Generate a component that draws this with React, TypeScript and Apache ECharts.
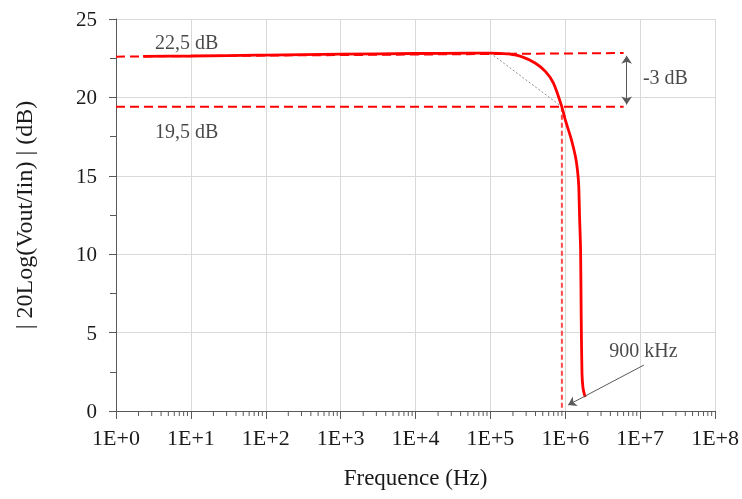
import React, { useEffect, useRef } from "react";
import * as echarts from "echarts";

// Measured response (frequency in Hz, gain in dB)
const freqHz = [2.3, 10, 100, 1e3, 1e4, 5e4, 1e5, 1.3e5, 1.75e5, 2.6e5, 4.0e5, 5.45e5, 6.97e5, 9.0e5, 1.0e6, 1.21e6, 1.37e6, 1.45e6, 1.51e6, 1.55e6, 1.6e6, 1.63e6, 1.67e6, 1.72e6, 1.8e6, 1.85e6];
const gainDb = [22.62, 22.64, 22.7, 22.76, 22.8, 22.82, 22.82, 22.81, 22.77, 22.6, 22.18, 21.64, 20.9, 19.4, 18.56, 17.28, 16.2, 15.4, 14.4, 12.4, 10.27, 6.0, 2.4, 1.5, 1.05, 0.89];

// Tick labels
const xTickLabels = ["1E+0", "1E+1", "1E+2", "1E+3", "1E+4", "1E+5", "1E+6", "1E+7", "1E+8"];
const yTicks = [0, 5, 10, 15, 20, 25];

// Reference lines
const upperRefX = [1, 6e6];
const upperRefY = [22.6, 22.83];
const lowerRefX = [1, 6e6];
const lowerRefY = [19.4, 19.4];
const cutoffX = [9e5, 9e5];
const cutoffY = [19.4, 0];
const tangentX = [1e5, 9e5];
const tangentY = [22.82, 19.4];

// Annotations
const annotTexts = ["22,5 dB", "19,5 dB", "-3 dB", "900 kHz"];
const annotX = [3.26, 3.26, 1.07e7, 3.8e6];
const annotY = [23.53, 17.86, 21.3, 3.89];
const dbArrowX = 6.6e6;
const dbArrowY = [22.65, 19.55];
const khzArrowFrom = [1.12e7, 2.93];
const khzArrowTo = [1.09e6, 0.38];

// Minor tick values on log axis (2..9 per decade)
const minorMultipliers = [2, 3, 4, 5, 6, 7, 8, 9];
const decades = [1, 10, 100, 1e3, 1e4, 1e5, 1e6, 1e7];

const FONT = "'Liberation Serif', 'Times New Roman', serif";
const TEXT = "#1a1a1a";
const AXIS = "#595959";

export default function App() {
  const ref = useRef<HTMLDivElement>(null);
  useEffect(() => {
    if (!ref.current) return;
    const chart = echarts.init(ref.current, null, { renderer: "svg" });
    const minorTicks: number[][] = [];
    decades.forEach((d) => minorMultipliers.forEach((m) => minorTicks.push([m * d, 0])));
    const pair = (xs: number[], ys: number[]) => xs.map((x, i) => [x, ys[i]]);

    chart.setOption({
      animation: false,
      textStyle: { fontFamily: FONT },
      grid: { left: 116, right: 25, top: 19, bottom: 88, containLabel: false },
      xAxis: {
        type: "log",
        logBase: 10,
        min: 1,
        max: 1e8,
        name: "Frequence (Hz)",
        nameLocation: "middle",
        nameGap: 55,
        nameTextStyle: { fontFamily: FONT, fontSize: 23, color: TEXT },
        axisLine: { show: true, lineStyle: { color: AXIS, width: 1 } },
        axisTick: { show: true, length: 8, lineStyle: { color: AXIS } },
        minorTick: { show: false },
        splitLine: { show: true, lineStyle: { color: "#d9d9d9", width: 1 } },
        axisLabel: {
          fontFamily: FONT,
          fontSize: 22,
          color: TEXT,
          margin: 15,
          formatter: (v: number) => xTickLabels[Math.round(Math.log10(v))] ?? "",
        },
      },
      yAxis: {
        type: "value",
        min: yTicks[0],
        max: yTicks[yTicks.length - 1],
        interval: 5,
        name: "| 20Log(Vout/Iin) | (dB)",
        nameLocation: "middle",
        nameGap: 80,
        nameTextStyle: { fontFamily: FONT, fontSize: 24, color: TEXT },
        axisLine: { show: true, lineStyle: { color: AXIS, width: 1 } },
        axisTick: { show: true, length: 7, lineStyle: { color: AXIS } },
        minorTick: { show: true, splitNumber: 2, length: 6, lineStyle: { color: AXIS } },
        splitLine: { show: true, lineStyle: { color: "#d9d9d9", width: 1 } },
        axisLabel: { fontFamily: FONT, fontSize: 21, color: TEXT, margin: 19 },
      },
      series: [
        {
          type: "custom",
          silent: true,
          clip: false,
          renderItem: (params: any, api: any) => {
            const p = api.coord([api.value(0), 0]);
            return {
              type: "line",
              shape: { x1: p[0], y1: p[1], x2: p[0], y2: p[1] + 5 },
              style: { stroke: AXIS, lineWidth: 1 },
            };
          },
          data: minorTicks,
          z: 1,
        },
        {
          type: "line",
          data: pair(upperRefX, upperRefY),
          showSymbol: false,
          lineStyle: { color: "#ff0000", width: 2, type: [9, 5] },
          silent: true,
          z: 2,
        },
        {
          type: "line",
          data: pair(lowerRefX, lowerRefY),
          showSymbol: false,
          lineStyle: { color: "#ff0000", width: 2, type: [9, 5] },
          silent: true,
          z: 2,
        },
        {
          type: "line",
          data: pair(cutoffX, cutoffY),
          showSymbol: false,
          lineStyle: { color: "#ff4848", width: 2, type: [5, 3] },
          silent: true,
          z: 2,
        },
        {
          type: "line",
          data: pair(tangentX, tangentY),
          showSymbol: false,
          lineStyle: { color: "#8c8c8c", width: 1, type: [2, 2] },
          silent: true,
          z: 2,
          markLine: {
            silent: true,
            symbol: ["arrow", "arrow"],
            symbolSize: 8,
            label: { show: false },
            lineStyle: { color: "#595959", width: 1, type: "solid" },
            data: [
              [
                { coord: [dbArrowX, dbArrowY[0]], symbol: "arrow" },
                { coord: [dbArrowX, dbArrowY[1]], symbol: "arrow" },
              ],
              [
                { coord: khzArrowFrom, symbol: "none" },
                { coord: khzArrowTo, symbol: "arrow" },
              ],
            ],
          },
        },
        {
          type: "line",
          data: pair(freqHz, gainDb),
          showSymbol: false,
          smooth: 0.25,
          lineStyle: { color: "#ff0000", width: 2.8 },
          silent: true,
          z: 3,
        },
        {
          type: "scatter",
          symbolSize: 1,
          itemStyle: { color: "rgba(0,0,0,0)" },
          silent: true,
          data: annotTexts.map((t, i) => ({ name: t, value: [annotX[i], annotY[i]] })),
          label: {
            show: true,
            position: "right",
            distance: 0,
            formatter: (p: any) => p.name,
            fontFamily: FONT,
            fontSize: 20,
            color: TEXT,
          },
          z: 4,
        },
      ],
    });
    return () => chart.dispose();
  }, []);
  return <div ref={ref} style={{ position: "fixed", left: 0, top: 0, width: 742, height: 499 }} />;
}
